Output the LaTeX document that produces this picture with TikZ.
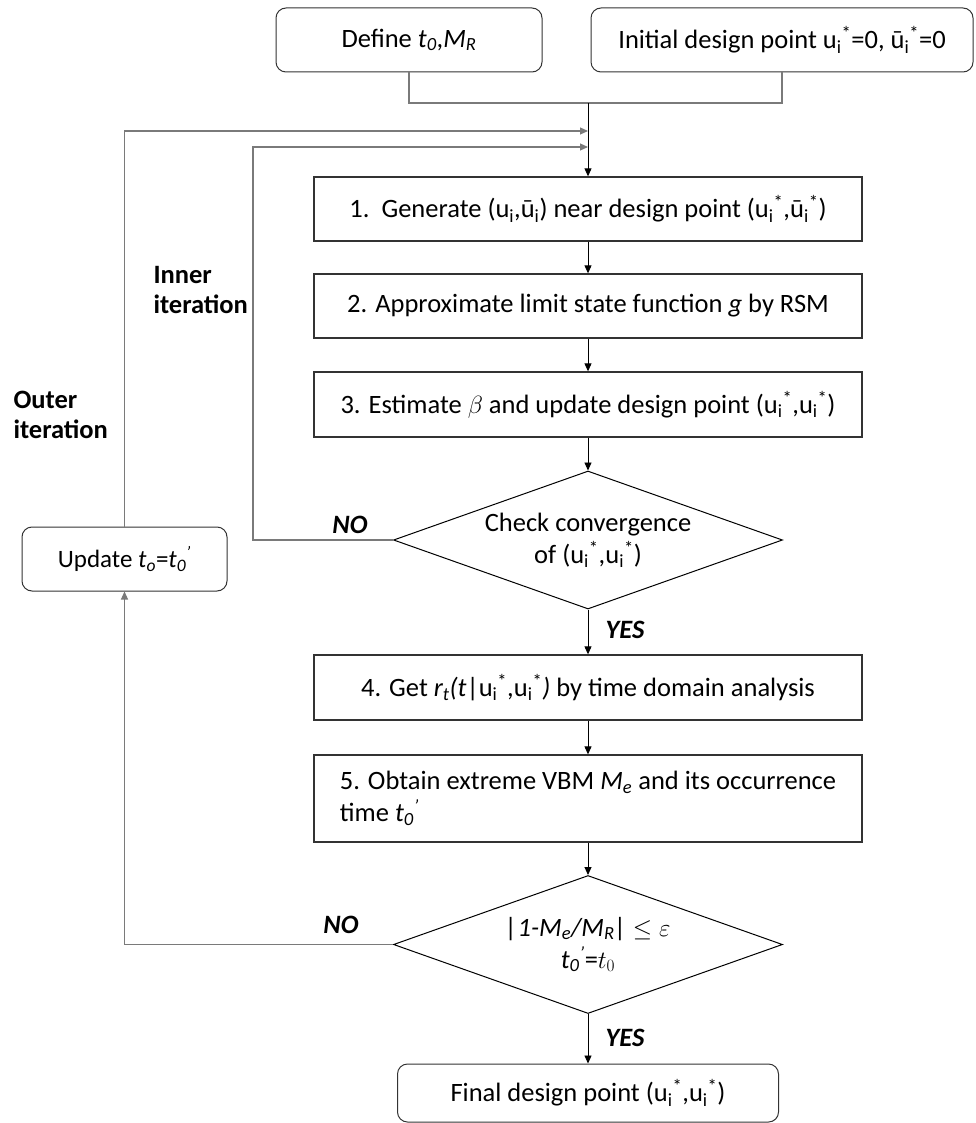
\documentclass[tikz,border=0pt]{standalone}
\usepackage{fontspec}
\setmainfont{Carlito}
\usepackage{tikz}
\usetikzlibrary{positioning,shapes.geometric,arrows.meta}
\definecolor{edge}{HTML}{333333}
\definecolor{loopline}{HTML}{7A7A7A}
\newcommand{\US}[1]{#1\textsubscript{i}\textsuperscript{*}}
\newcommand{\UI}[1]{#1\textsubscript{i}}
\newcommand{\Tp}{\textit{t\textsubscript{0}\textsuperscript{'}}}
\tikzset{
  every node/.style={font=\fontsize{26.5}{32}\selectfont, text=black},
  stepbox/.style={rectangle, draw=edge, line width=1.3pt, inner sep=4pt,
    minimum width=548pt, minimum height=#1},
  endbox/.style={rectangle, rounded corners=10pt, draw=edge, line width=1pt,
    minimum height=64pt},
  check/.style={diamond, aspect=2.8, draw=black, line width=1pt, inner sep=0pt,
    minimum width=389pt, minimum height=138pt, align=center},
  flow/.style={draw=black, line width=0.9pt, -{Triangle[length=8pt,width=7pt]}},
  back/.style={draw=loopline, line width=1.1pt, -{Triangle[length=8pt,width=7pt]}},
  tag/.style={font=\fontsize{26.5}{32}\selectfont\bfseries\itshape},
  side/.style={font=\fontsize{26.5}{30}\selectfont\bfseries, align=left, anchor=west}
}
\begin{document}
\begin{tikzpicture}[x=1pt,y=-1pt]
\useasboundingbox (0,0) rectangle (975,1123);

% =========================
% START
% =========================
\node[endbox, minimum width=266pt] (define) at (409,40)
  {Define \textit{t\textsubscript{0}},\textit{M\textsubscript{R}}\hspace{48pt}};
\node[endbox, minimum width=382pt] (init) at (782,40)
  {Initial design point \US{u}=0, \US{ū}=0};

% =========================
% INNER LOOP (RSM)
% =========================
\node[stepbox=64pt] (gen) at (588,209)
  {1.\ \ Generate (\UI{u},\UI{ū}) near design point (\US{u},\US{ū})};
\node[stepbox=64pt] (approx) at (588,306)
  {2. Approximate limit state function \textit{g} by RSM};
\node[stepbox=65pt] (est) at (588,404.5)
  {3. Estimate $\beta$ and update design point (\US{u},\US{u})};
\node[check] (conv) at (588,540)
  {Check convergence\\of (\US{u},\US{u})};

% =========================
% OUTER LOOP (time domain)
% =========================
\node[stepbox=65pt] (resp) at (588,687.5)
  {4. Get \textit{r\textsubscript{t}(t}|\US{u},\US{u}\textit{)} by time domain analysis};
\node[stepbox=87pt, align=left] (peak) at (588,798.5)
  {5. Obtain extreme VBM \textit{M\textsubscript{e}} and its occurrence\\time \Tp};
\node[check] (stop) at (588,944.5)
  {\textit{|1-M\textsubscript{e}/M\textsubscript{R}|} $\leq\varepsilon$\\\Tp=$t_0$};
\node[endbox, minimum width=381pt, minimum height=58pt] (final) at (588,1093)
  {Final design point (\US{u},\US{u})};
\node[endbox, minimum width=205pt, font=\fontsize{25}{30}\selectfont] (update) at (124.5,559)
  {Update \textit{t\textsubscript{o}}=\Tp};

% labels
\node[tag] (no1)  at (350,525)  {NO};
\node[tag] (yes1) at (625,630)  {YES};
\node[tag] (no2)  at (341,925)  {NO};
\node[tag] (yes2) at (625,1038) {YES};
\node[side] (inner) at (150,290) {Inner\\iteration};
\node[side] (outer) at (10,415)  {Outer\\iteration};

% =========================
% CONNECTORS
% =========================
\coordinate (join)    at (588,103);
\coordinate (outerin) at (588,131);
\coordinate (innerin) at (588,147);
\coordinate (innerlx) at (253,540);

\draw[loopline, line width=1.1pt] (define.south) |- (join) -| (init.south);
\draw[flow] (join) -- (gen.north);
\draw[back] (update.north) |- (outerin);
\draw[back] (conv.west) -- (innerlx) |- (innerin);
\draw[back] (stop.west) -| (update.south);

\draw[flow] (gen) -- (approx);
\draw[flow] (approx) -- (est);
\draw[flow] (est) -- (conv);
\draw[flow] (conv) -- (resp);
\draw[flow] (resp) -- (peak);
\draw[flow] (peak) -- (stop);
\draw[flow] (stop) -- (final);

\end{tikzpicture}
\end{document}
